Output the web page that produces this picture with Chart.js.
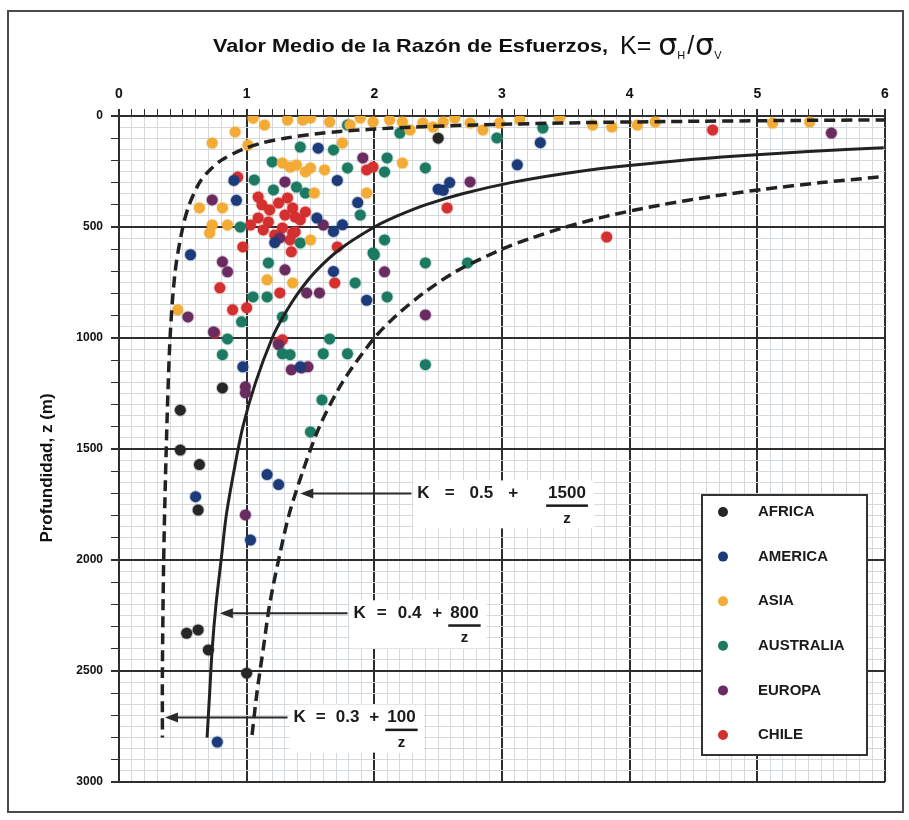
<!DOCTYPE html>
<html>
<head>
<meta charset="utf-8">
<script src="https://cdn.jsdelivr.net/npm/chart.js@4.4.1/dist/chart.umd.min.js"></script>
<style>
html, body { margin: 0; padding: 0; background: #fff; }
</style>
</head>
<body>
<canvas id="myChart" width="909" height="820"></canvas>
<script>
// values: [K, depth z (m)]
var africa = [[2.50,100],[0.81,1225],[0.48,1325],[0.48,1505],[0.63,1570],[0.62,1775],
  [0.53,2330],[0.62,2315],[0.70,2405],[1.00,2510]];

var america = [[3.30,120],[3.12,220],[2.54,335],[2.59,300],[2.50,330],[1.56,145],[1.71,290],
  [1.87,390],[1.68,520],[1.55,460],[1.22,570],[0.92,380],[0.90,290],[0.56,625],[1.68,700],
  [1.94,830],[1.75,490],[0.97,1130],[1.42,1130],[1.16,1615],[1.25,1660],[0.60,1715],
  [1.03,1910],[0.77,2820]];

var asia = [[1.05,10],[0.91,72],[0.73,122],[1.32,18],[1.65,27],[1.81,41],[1.99,27],[2.12,18],
  [2.22,27],[2.38,32],[2.46,50],[2.54,27],[2.75,32],[2.85,63],[2.98,32],[3.71,41],[3.86,50],
  [4.06,41],[4.20,27],[5.12,32],[5.41,27],[1.01,131],[1.44,18],[1.14,41],[1.50,9],[1.89,9],
  [2.28,63],[2.63,9],[3.14,18],[3.45,9],[1.28,212],[1.34,230],[1.39,221],[1.50,234],
  [1.61,243],[1.75,122],[2.22,212],[1.94,347],[1.53,347],[1.50,558],[0.63,414],[0.71,527],
  [0.81,414],[0.73,491],[0.85,491],[1.16,738],[1.36,752],[0.46,873],[1.46,252]];

var australia = [[2.96,99],[3.32,54],[2.40,234],[2.20,77],[1.79,41],[1.42,140],[1.68,153],
  [2.10,189],[2.08,252],[1.79,234],[1.46,347],[1.39,320],[1.20,207],[1.21,333],[1.06,288],
  [1.89,446],[2.08,558],[1.99,617],[1.42,572],[0.95,500],[2.40,662],[2.73,662],[2.00,626],
  [1.85,752],[2.10,815],[1.17,662],[1.16,815],[1.05,815],[0.96,927],[1.28,905],[0.85,1004],
  [0.81,1075],[1.28,1071],[1.34,1075],[1.65,1004],[1.60,1071],[1.79,1071],[2.40,1120],
  [1.59,1279],[1.50,1423]];

var europa = [[2.75,297],[2.40,896],[5.58,77],[1.91,189],[2.08,702],[1.30,297],[0.73,378],
  [1.60,491],[1.26,549],[0.81,657],[0.85,702],[0.54,905],[0.74,973],[1.30,693],[1.47,797],
  [1.57,797],[1.48,1130],[1.43,1135],[1.25,1030],[1.35,1143],[0.99,1220],[0.99,1247],
  [0.99,1797]];

var chile = [[4.65,63],[3.82,545],[2.57,414],[1.94,243],[1.99,230],[1.38,455],[1.36,527],
  [1.71,590],[0.93,275],[1.09,365],[1.03,491],[0.97,590],[0.79,774],[0.89,873],[1.00,864],
  [0.75,977],[1.26,797],[1.28,1008],[1.25,1020],[1.35,612],[1.69,752],[1.12,400],[1.18,423],
  [1.25,392],[1.30,446],[1.36,414],[1.42,468],[1.17,477],[1.28,504],[1.38,522],[1.46,432],
  [1.22,536],[1.34,558],[1.09,459],[1.13,513],[1.32,369]];

// envelope curves
var lowZ = [17.5,20,25,30,40,50,60,70,80,100,120,150,200,250,300,400,500,700,1000,1500,2000,2500,2800];
var lowK = [6.01,5.30,4.30,3.63,2.80,2.30,1.97,1.73,1.55,1.30,1.13,0.97,0.80,0.70,0.63,0.55,0.50,0.44,0.40,0.37,0.35,0.34,0.34];
var midZ = [143,160,180,200,230,260,300,350,400,450,500,600,700,800,900,1000,1200,1400,1600,1800,2000,2200,2400,2600,2800];
var midK = [5.99,5.40,4.84,4.40,3.88,3.48,3.07,2.69,2.40,2.18,2.00,1.73,1.54,1.40,1.29,1.20,1.07,0.97,0.90,0.84,0.80,0.76,0.73,0.71,0.69];
var highZ = [275,300,330,360,400,450,500,550,600,700,800,900,1000,1200,1400,1600,1800,2000,2200,2400,2600,2800];
var highK = [5.95,5.50,5.05,4.67,4.25,3.83,3.50,3.23,3.00,2.64,2.38,2.17,2.00,1.75,1.57,1.44,1.33,1.25,1.18,1.13,1.08,1.04];

var regions = ['AFRICA', 'AMERICA', 'ASIA', 'AUSTRALIA', 'EUROPA', 'CHILE'];
var regionData = [africa, america, asia, australia, europa, chile];
var regionColors = ['#262626', '#1d3b7a', '#f2ac36', '#1c7a62', '#6a2c60', '#d4302f'];

var xTicks = [0, 1, 2, 3, 4, 5, 6];
var yTicks = [0, 500, 1000, 1500, 2000, 2500, 3000];

// arrow labels on the curves
var notes = [
    { tipK: 1.42, z: 1700, tailK: 2.29, parts: ['K', '=', '0.5', '+'], num: '1500', gap: 15, fracGap: 30 },
    { tipK: 0.79, z: 2240, tailK: 1.79, parts: ['K', '=', '0.4', '+'], num: '800', gap: 11, fracGap: 8 },
    { tipK: 0.36, z: 2710, tailK: 1.32, parts: ['K', '=', '0.3', '+'], num: '100', gap: 10, fracGap: 8 }
];

function toPoints(arr) {
    return arr.map(function (p) { return { x: p[0], y: p[1] }; });
}
function curve(ks, zs) {
    return ks.map(function (k, i) { return { x: k, y: zs[i] }; });
}
function isWhole(v) {
    return Math.abs(v - Math.round(v)) < 1e-6;
}

var datasets = [
    { label: 'low', data: curve(lowK, lowZ), showLine: true, borderColor: '#222', borderWidth: 3.5,
      borderDash: [11, 6], pointRadius: 0, tension: 0.3 },
    { label: 'mid', data: curve(midK, midZ), showLine: true, borderColor: '#222', borderWidth: 3,
      pointRadius: 0, tension: 0.3 },
    { label: 'high', data: curve(highK, highZ), showLine: true, borderColor: '#222', borderWidth: 3.5,
      borderDash: [11, 6], pointRadius: 0, tension: 0.3 }
];
for (var i = 0; i < regions.length; i++) {
    datasets.push({
        label: regions[i],
        data: toPoints(regionData[i]),
        backgroundColor: regionColors[i],
        borderColor: regionColors[i] + '40',
        borderWidth: 2,
        pointRadius: 5.5
    });
}

function fitText(ctx, text, x, y, w) {
    var m = ctx.measureText(text).width;
    ctx.save();
    ctx.translate(x, y);
    ctx.scale(w / m, 1);
    ctx.fillText(text, 0, 0);
    ctx.restore();
}

const overlay = {
    id: 'overlay',
    afterDraw: function (chart) {
        var ctx = chart.ctx;
        var xs = chart.scales.x, ys = chart.scales.y;
        ctx.save();

        // outer frame
        ctx.strokeStyle = '#4a4a4a';
        ctx.lineWidth = 2;
        ctx.strokeRect(8, 11, 895, 801);

        // title
        ctx.fillStyle = '#111';
        ctx.textBaseline = 'alphabetic';
        ctx.textAlign = 'left';
        ctx.font = 'bold 19px "Liberation Sans"';
        fitText(ctx, 'Valor Medio de la Razón de Esfuerzos,', 213, 52, 395);
        var tx = 620;
        ctx.font = '25px "Liberation Sans"';
        ctx.fillText('K=', tx, 54);
        tx += ctx.measureText('K= ').width;
        ctx.font = '30px "DejaVu Sans"';
        ctx.fillText('σ', tx, 55);
        tx += ctx.measureText('σ').width;
        ctx.font = '11px "Liberation Sans"';
        ctx.fillText('H', tx, 59);
        tx += ctx.measureText('H').width + 2;
        ctx.font = '25px "Liberation Sans"';
        ctx.fillText('/', tx, 54);
        tx += ctx.measureText('/').width + 1;
        ctx.font = '30px "DejaVu Sans"';
        ctx.fillText('σ', tx, 55);
        tx += ctx.measureText('σ').width;
        ctx.font = '11px "Liberation Sans"';
        ctx.fillText('V', tx, 59);

        // y axis title
        ctx.save();
        ctx.translate(47, 468);
        ctx.rotate(-Math.PI / 2);
        ctx.textAlign = 'center';
        ctx.textBaseline = 'middle';
        ctx.font = 'bold 17px "Liberation Sans"';
        ctx.fillText('Profundidad, z (m)', 0, 0);
        ctx.restore();

        // arrow labels
        notes.forEach(function (n) {
            var y = ys.getPixelForValue(n.z);
            var xt = xs.getPixelForValue(n.tipK);
            var xe = xs.getPixelForValue(n.tailK);
            ctx.font = 'bold 17px "Liberation Sans"';
            var widths = n.parts.map(function (p) { return ctx.measureText(p).width; });
            var nw = ctx.measureText(n.num).width;
            var total = widths.reduce(function (a, b) { return a + b; }, 0) + n.gap * (n.parts.length - 1) + n.fracGap + nw;
            ctx.fillStyle = '#fff';
            ctx.fillRect(xe + 2, y - 13, total + 12, 48);
            ctx.strokeStyle = '#2a2a2a';
            ctx.lineWidth = 2;
            ctx.beginPath();
            ctx.moveTo(xt + 6, y);
            ctx.lineTo(xe, y);
            ctx.stroke();
            ctx.fillStyle = '#2a2a2a';
            ctx.beginPath();
            ctx.moveTo(xt, y);
            ctx.lineTo(xt + 13, y - 5);
            ctx.lineTo(xt + 13, y + 5);
            ctx.closePath();
            ctx.fill();
            ctx.fillStyle = '#1a1a1a';
            ctx.textBaseline = 'middle';
            ctx.textAlign = 'left';
            var x = xe + 6;
            n.parts.forEach(function (p, j) {
                ctx.fillText(p, x, y);
                x += widths[j] + n.gap;
            });
            x += n.fracGap - n.gap;
            ctx.fillText(n.num, x, y);
            ctx.fillRect(x - 2, y + 11, nw + 4, 2.5);
            ctx.font = 'bold 15px "Liberation Sans"';
            ctx.textAlign = 'center';
            ctx.fillText('z', x + nw / 2, y + 25);
        });

        // legend box
        ctx.fillStyle = '#fff';
        ctx.fillRect(702, 495, 165, 260);
        ctx.strokeStyle = '#333';
        ctx.lineWidth = 2;
        ctx.strokeRect(702, 495, 165, 260);
        ctx.textAlign = 'left';
        ctx.textBaseline = 'middle';
        ctx.font = 'bold 15px "Liberation Sans"';
        regions.forEach(function (r, j) {
            var ly = 512 + j * 44.6;
            ctx.fillStyle = regionColors[j];
            ctx.beginPath();
            ctx.arc(723, ly, 5, 0, Math.PI * 2);
            ctx.fill();
            ctx.fillStyle = '#1a1a1a';
            ctx.fillText(r, 758, ly);
        });

        ctx.restore();
    }
};

const config = {
    type: 'scatter',
    data: { datasets: datasets },
    options: {
        responsive: false,
        animation: false,
        layout: { padding: { left: 0, top: 0, right: 24, bottom: 38 } },
        plugins: {
            legend: { display: false },
            tooltip: { enabled: false }
        },
        scales: {
            x: {
                type: 'linear',
                position: 'top',
                min: 0,
                max: 6,
                afterFit: function (scale) { scale.height = 116; },
                ticks: {
                    stepSize: 0.1,
                    autoSkip: false,
                    maxRotation: 0,
                    padding: 6,
                    color: '#111',
                    font: { family: 'Liberation Sans', size: 14, weight: 'bold' },
                    callback: function (v) {
                        return xTicks.indexOf(Math.round(v)) >= 0 && isWhole(v) ? Math.round(v) : '';
                    }
                },
                grid: {
                    color: function (c) { return c.tick && isWhole(c.tick.value) ? '#2e2e2e' : '#d3d9dd'; },
                    lineWidth: function (c) { return c.tick && isWhole(c.tick.value) ? 2 : 1; },
                    tickColor: '#2e2e2e',
                    tickLength: 7
                },
                border: { color: '#2e2e2e', width: 2 }
            },
            y: {
                type: 'linear',
                reverse: true,
                min: 0,
                max: 3000,
                afterFit: function (scale) { scale.width = 119; },
                ticks: {
                    stepSize: 50,
                    autoSkip: false,
                    padding: 8,
                    color: '#111',
                    font: { family: 'Liberation Sans', size: 12, weight: 'bold' },
                    callback: function (v) { return yTicks.indexOf(v) >= 0 ? v : ''; }
                },
                grid: {
                    color: function (c) { return c.tick && c.tick.value % 500 === 0 ? '#2e2e2e' : '#d3d9dd'; },
                    lineWidth: function (c) { return c.tick && c.tick.value % 500 === 0 ? 2 : 1; },
                    tickColor: function (c) { return c.tick && c.tick.value % 100 === 0 ? '#2e2e2e' : 'rgba(0,0,0,0)'; },
                    tickLength: 8
                },
                border: { color: '#2e2e2e', width: 2 }
            }
        }
    },
    plugins: [overlay]
};

const myChart = new Chart(document.getElementById('myChart'), config);
</script>
</body>
</html>
